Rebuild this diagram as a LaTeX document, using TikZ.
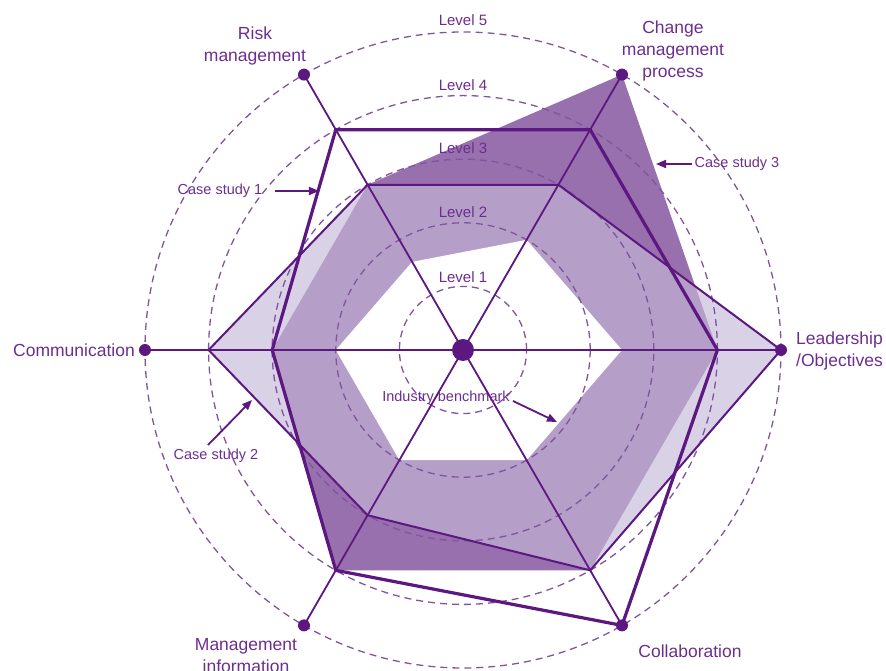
\documentclass[tikz,border=0pt]{standalone}
\usepackage{fontspec}
\setmainfont{Liberation Sans}
\usetikzlibrary{arrows.meta}
\definecolor{lin}{RGB}{92,24,128}
\definecolor{txt}{RGB}{108,46,142}
\definecolor{dsh}{RGB}{128,84,158}
\definecolor{darkfill}{RGB}{152,112,174}
\definecolor{litefill}{RGB}{197,185,215}
\tikzset{
  axis/.style={draw=lin, line width=1.8pt},
  lvl/.style={draw=dsh, line width=1.3pt, dash pattern=on 7pt off 5pt},
  cstwo/.style={draw=lin, line width=2pt, line join=miter},
  csone/.style={draw=lin, line width=3.2pt, line join=miter},
  axlabel/.style={text=txt, font=\fontsize{17.5}{22}\selectfont, inner sep=0pt},
  lvllabel/.style={text=txt, font=\fontsize{15}{18}\selectfont, inner sep=0pt},
  cslabel/.style={text=txt, font=\fontsize{14.5}{17}\selectfont, inner sep=0pt},
  arr/.style={draw=lin, line width=1.8pt, -{Triangle[length=10pt,width=8pt]}},
}
\begin{document}
\begin{tikzpicture}[x=1pt,y=1pt]
\useasboundingbox (-463,-321) rectangle (423,350);
\def\U{63.6}
% case study 3 (dark, opaque)
\fill[darkfill] (0:4*\U) -- (60:5*\U) -- (120:3*\U) -- (180:3*\U) -- (240:4*\U) -- (300:4*\U) -- cycle;
% case study 2 (light, translucent)
\fill[litefill, fill opacity=0.65] (0:5*\U) -- (60:3*\U) -- (120:3*\U) -- (180:4*\U) -- (240:3*\U) -- (300:4*\U) -- cycle;
% inner white area
\fill[white] (0:2.5*\U) -- (60:2*\U) -- (120:1.6*\U) -- (180:2*\U) -- (240:2*\U) -- (300:2*\U) -- cycle;
% level circles
\foreach \k in {1,...,5} \draw[lvl] (0,0) circle ({\k*\U});
% axes
\foreach \a in {0,60,...,300} \draw[axis] (0,0) -- (\a:5*\U);
% case study 2 outline
\draw[cstwo] (0:5*\U) -- (60:3*\U) -- (120:3*\U) -- (180:4*\U) -- (240:3*\U) -- (300:4*\U) -- cycle;
% case study 1 outline
\draw[csone] (0:4*\U) -- (60:4*\U) -- (120:4*\U) -- (180:3*\U) -- (240:4*\U) -- (300:5*\U) -- cycle;
% dots
\foreach \a in {0,60,...,300} \fill[lin] (\a:5*\U) circle (6pt);
\fill[lin] (0,0) circle (11pt);
% level labels
\node[lvllabel] (l5) at (0,330) {Level 5};
\node[lvllabel] (l4) at (0,265) {Level 4};
\node[lvllabel] (l3) at (0,202) {Level 3};
\node[lvllabel] (l2) at (0,138) {Level 2};
\node[lvllabel] (l1) at (0,73) {Level 1};
% axis labels
\node[axlabel, align=center] (risk) at (-208,304) {Risk\\management};
\node[axlabel, align=center] (change) at (210,299) {Change\\management\\process};
\node[axlabel, anchor=east] (comm) at (-328,0) {Communication};
\node[axlabel, anchor=west, align=left] (lead) at (333,-1) {Leadership\\/Objectives};
\node[axlabel, align=center] (mi) at (-217,-306) {Management\\information};
\node[axlabel] (collab) at (227,-301) {Collaboration};
% case labels and arrows
\node[cslabel] (cs1) at (-243,159) {Case study 1};
\node[cslabel] (cs2) at (-247,-106) {Case study 2};
\node[cslabel] (cs3) at (274,186) {Case study 3};
\node[cslabel] (ib) at (-17,-48) {Industry benchmark};
\coordinate (cs1tail) at (-188,159);
\coordinate (cs1tip) at (-144,159);
\coordinate (cs2tail) at (-255,-95);
\coordinate (cs2tip) at (-211,-50);
\coordinate (cs3tail) at (229,186);
\coordinate (cs3tip) at (193,186);
\coordinate (ibtail) at (50,-51);
\coordinate (ibtip) at (94,-72);
\draw[arr] (cs1tail) -- (cs1tip);
\draw[arr] (cs2tail) -- (cs2tip);
\draw[arr] (cs3tail) -- (cs3tip);
\draw[arr] (ibtail) -- (ibtip);
\end{tikzpicture}
\end{document}
